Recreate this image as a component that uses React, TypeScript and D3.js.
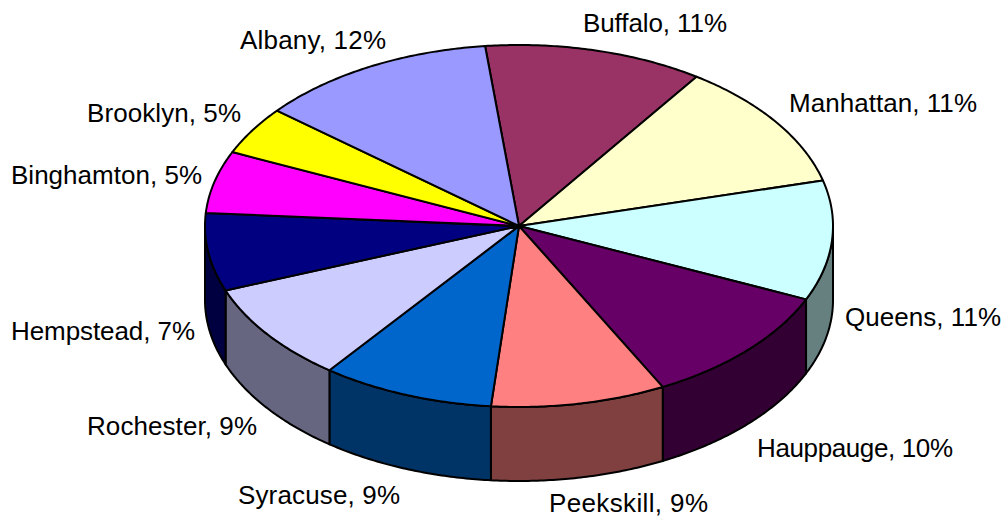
import React from "react";
import * as d3 from "d3";

const cities = ["Buffalo", "Manhattan", "Queens", "Hauppauge", "Peekskill", "Syracuse", "Rochester", "Hempstead", "Binghamton", "Brooklyn", "Albany"];
const shares = [11.3, 11.4, 10.7, 10.8, 9.0, 8.9, 8.9, 6.95, 5.55, 4.3, 12.3];
const percentLabels = ["11%", "11%", "11%", "10%", "9%", "9%", "9%", "7%", "5%", "5%", "12%"];
const topColors = ["#993366", "#FFFFCC", "#CCFFFF", "#660066", "#FF8080", "#0066CC", "#CCCCFF", "#000080", "#FF00FF", "#FFFF00", "#9999FF"];
const sideColors = ["#4D1A33", "#808066", "#668080", "#330033", "#804040", "#003366", "#666680", "#000040", "#800080", "#808000", "#4D4D80"];
const labelX = [583, 789, 845, 757, 549, 238, 87, 11, 11, 87, 240];
const labelY = [32, 112, 326, 457, 512, 504, 435, 340, 184, 122, 49];
const labelWidth = [144, 188, 156, 196, 159, 162, 170, 184, 191, 154, 146];

const W = 1006, H = 519;
const cx = 519, cy = 226, rx = 314, ry = 181, depth = 74;
const xS = d3.scaleLinear().domain([-1, 1]).range([cx - rx, cx + rx]);
const yS = d3.scaleLinear().domain([-1, 1]).range([cy - ry, cy + ry]);

const startDeg = -6.2;
const pie = d3.pie<number>().sort(null).startAngle((startDeg * Math.PI) / 180).endAngle(((startDeg + 360) * Math.PI) / 180);
const arcs = pie(shares);

const pt = (a: number, dy = 0): [number, number] => [xS(Math.sin(a)), yS(-Math.cos(a)) + dy];
const samples = (a0: number, a1: number, dy = 0): [number, number][] => {
  const n = Math.max(2, Math.ceil(Math.abs(a1 - a0) / 0.01));
  return d3.range(n + 1).map((i) => pt(a0 + ((a1 - a0) * i) / n, dy));
};
const line = d3.line();

const A90 = Math.PI / 2, A270 = (3 * Math.PI) / 2;

export default function App() {
  return (
    <svg width={W} height={H} viewBox={`0 0 ${W} ${H}`} style={{ position: "absolute", left: 0, top: 0, background: "#fff" }}>
      <g stroke="#000" strokeWidth={2} strokeLinejoin="round">
        {arcs.map((d, i) => {
          const a0 = Math.max(d.startAngle, A90), a1 = Math.min(d.endAngle, A270);
          if (a1 <= a0) return null;
          const pts = [...samples(a0, a1), ...samples(a1, a0, depth)];
          return <path key={i} d={line(pts) + "Z"} fill={sideColors[i]} />;
        })}
        {arcs.map((d, i) => {
          const pts: [number, number][] = [[xS(0), yS(0)], ...samples(d.startAngle, d.endAngle)];
          return <path key={i} d={line(pts) + "Z"} fill={topColors[i]} />;
        })}
      </g>
      <g fontFamily="'Liberation Sans', Arial, sans-serif" fontSize={26} fill="#000">
        {cities.map((c, i) => (
          <text key={c} x={labelX[i]} y={labelY[i]} textLength={labelWidth[i]} lengthAdjust="spacing">{`${c}, ${percentLabels[i]}`}</text>
        ))}
      </g>
    </svg>
  );
}
